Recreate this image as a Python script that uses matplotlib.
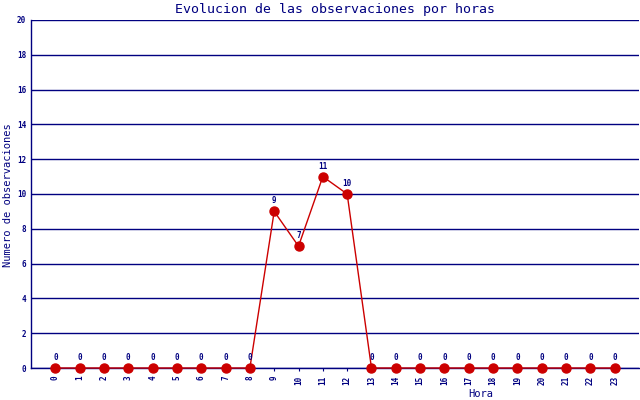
import matplotlib.pyplot as plt

horas = list(range(24))
observaciones = [0, 0, 0, 0, 0, 0, 0, 0, 0, 9, 7, 11, 10, 0,
                 0, 0, 0, 0, 0, 0, 0, 0, 0, 0]

navy = "#000080"
rojo = "#cc0000"
mono = "DejaVu Sans Mono"

fig = plt.figure(figsize=(6.4, 4), dpi=100)
ax = fig.add_axes([31 / 640, 32 / 400, 608 / 640, 348 / 400])

ax.plot(horas, observaciones, color=rojo, lw=1, marker="o", ms=6.5,
        markerfacecolor=rojo, markeredgecolor=rojo, zorder=3, clip_on=False)
for h, v in zip(horas, observaciones):
    ax.text(h, v + 0.35, str(v), ha="center", va="bottom", color=navy,
            fontsize=5.5, family=mono, fontweight="bold")

ax.set_xlim(-1, 24)
ax.set_ylim(0, 20)
ax.set_yticks(range(0, 21, 2))
ax.set_xticks(horas)
ax.set_xticklabels([str(h) for h in horas], rotation=90)
ax.tick_params(axis="both", colors=navy, labelsize=5.5, length=2)
ax.tick_params(axis="y", length=0)
for lab in ax.get_xticklabels() + ax.get_yticklabels():
    lab.set_family(mono)
    lab.set_fontweight("bold")

ax.grid(axis="y", color=navy, lw=1)
ax.set_axisbelow(True)
for s in ["top", "right"]:
    ax.spines[s].set_visible(False)
for s in ["left", "bottom"]:
    ax.spines[s].set_color(navy)
    ax.spines[s].set_linewidth(1)

fig.text(335 / 640, 1 - 9 / 400, "Evolucion de las observaciones por horas",
         ha="center", va="center", color=navy, fontsize=9.5, family=mono)
fig.text(8 / 640, 1 - 195 / 400, "Numero de observaciones", rotation=90,
         ha="center", va="center", color=navy, fontsize=7.5, family=mono)
fig.text(481 / 640, 1 - 394 / 400, "Hora", ha="center", va="center",
         color=navy, fontsize=7.5, family=mono)

fig.savefig("out.png", dpi=100)
